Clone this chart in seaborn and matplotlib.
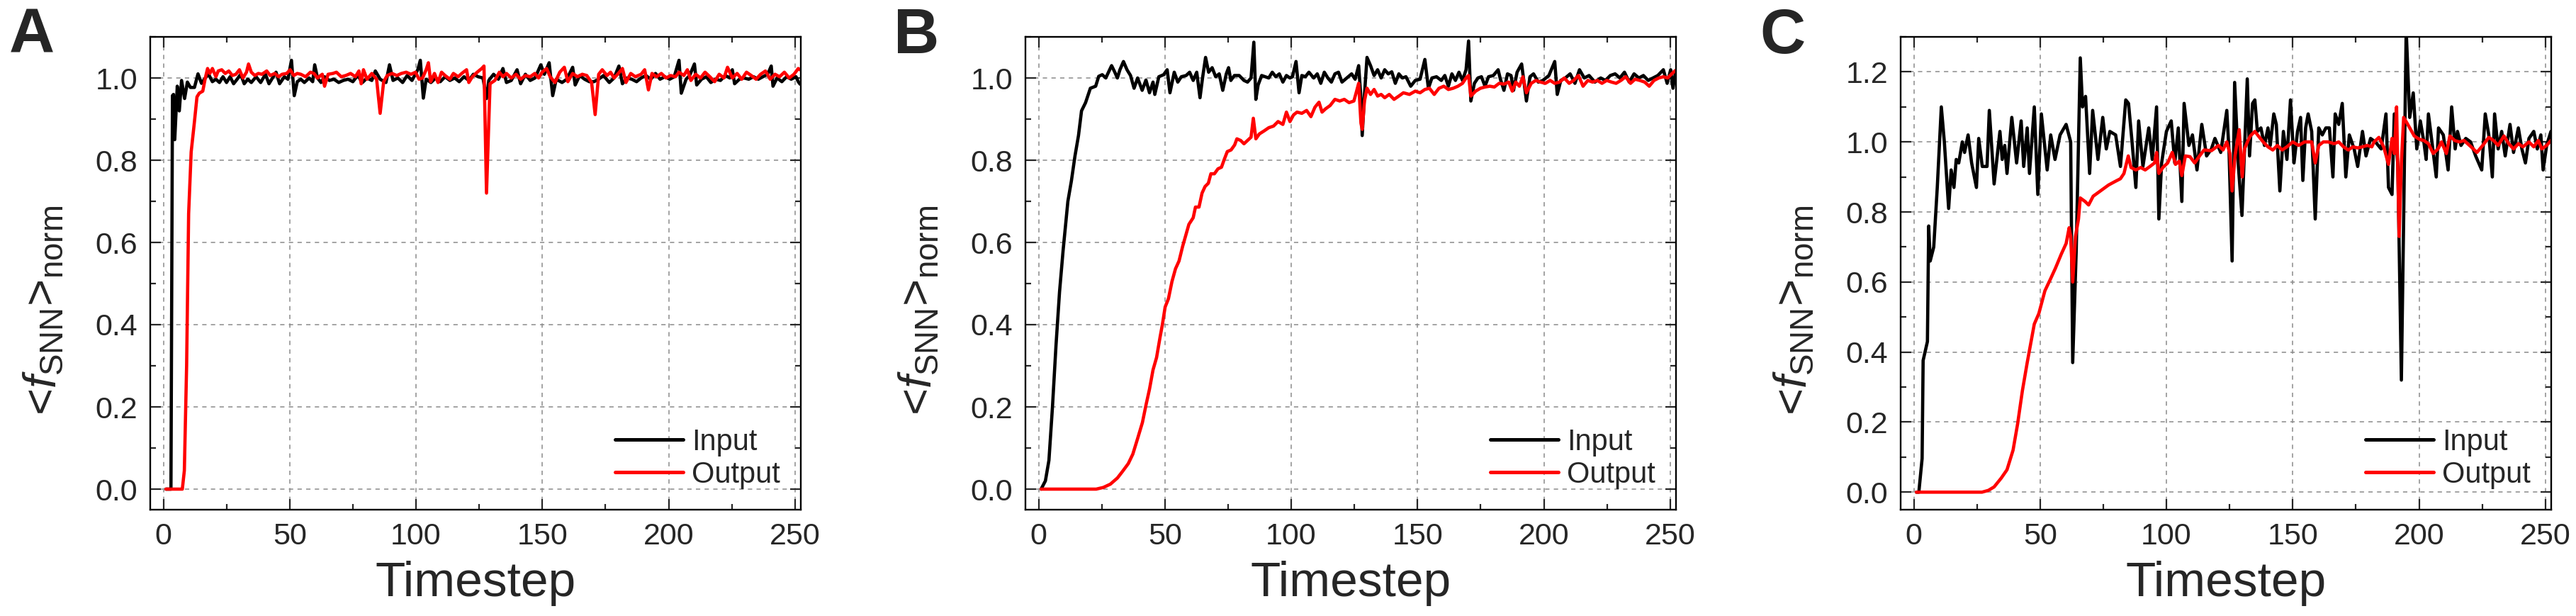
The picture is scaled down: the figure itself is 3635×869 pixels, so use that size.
import matplotlib
matplotlib.use('Agg')
import matplotlib.pyplot as plt
from matplotlib.ticker import MultipleLocator
import seaborn as sns

# each series: [timestep, <f_SNN>_norm] pairs

# panel A
a_input = [[1, 0], [2, 0], [3, 0], [3.6, 0.957], [4.0, 0.96], [4.5, 0.85], [5.5, 0.98], [6.3, 0.92], [7.2, 0.994],
           [8.4, 0.95], [9.5, 0.99], [10.7, 0.977], [12.3, 0.977], [13.7, 1.01], [15.1, 0.987], [16.6, 1.0],
           [17.9, 1.009], [19.4, 0.991], [20.8, 0.997], [22.2, 0.989], [23.6, 1.003], [25, 0.989], [26.4, 1.003],
           [27.8, 0.986], [29.2, 0.997], [30.6, 1.009], [32, 0.986], [33.4, 0.997], [34.8, 0.989], [36.7, 1.003],
           [38.5, 0.989], [40.4, 1.009], [41.8, 0.986], [43.2, 1.0], [44.6, 1.014], [46, 0.986], [47.9, 1.003],
           [49.3, 0.997], [50.7, 1.043], [51.8, 0.957], [53, 0.991], [54.4, 0.997], [55.8, 0.989], [57.7, 1.0],
           [59.1, 0.991], [59.9, 1.032], [61, 1.0], [62.4, 0.989], [63.8, 1.003], [65.7, 0.994], [67.5, 0.997],
           [69.4, 0.989], [71.2, 0.994], [73.1, 0.997], [75, 0.991], [76.9, 1.006], [78.8, 0.989], [80.6, 1.0],
           [82.5, 0.994], [83.9, 1.017], [85.8, 0.997], [88.1, 0.989], [89.5, 1.032], [90.9, 0.994], [92.8, 1.0],
           [94.7, 0.989], [96.5, 1.006], [98.4, 0.994], [100.7, 1.02], [101.7, 1.043], [102.9, 0.951], [104, 0.997],
           [105.9, 0.989], [107.8, 1.0], [109.6, 0.991], [111.5, 1.003], [113.4, 0.994], [115.3, 1.0], [117.1, 0.991],
           [119, 1.003], [120.9, 0.994], [122.7, 1.009], [124.6, 1.003], [126.5, 1.0], [127.9, 0.95], [128.8, 0.994],
           [130.7, 1.009], [132.6, 0.997], [134.4, 1.023], [135.8, 0.989], [137.7, 0.994], [140.0, 1.02],
           [141.4, 0.986], [143.3, 1.009], [145.2, 0.994], [147.1, 1.0], [149.4, 1.032], [150.8, 1.009],
           [152.7, 1.037], [154.1, 0.957], [155.5, 0.997], [157.8, 0.989], [159.7, 0.997], [162.0, 1.026],
           [163.0, 0.983], [164.8, 1.006], [166.7, 0.997], [168.6, 0.991], [170.4, 0.991], [172.3, 0.997],
           [174.2, 1.006], [176.5, 0.989], [178.4, 1.0], [180.3, 1.029], [181.7, 0.986], [183.5, 1.0], [185.4, 0.997],
           [187.3, 0.991], [189.1, 1.0], [191.0, 1.006], [192.9, 0.997], [194.8, 1.011], [196.6, 0.997],
           [198.5, 1.003], [200.4, 0.997], [202.2, 1.003], [204.1, 1.043], [205.0, 0.963], [206.9, 0.997],
           [208.3, 1.006], [210.2, 1.034], [211.1, 0.983], [213.0, 0.997], [214.9, 1.003], [216.7, 0.989],
           [218.6, 0.997], [220.5, 0.994], [222.4, 1.006], [224.2, 1.0], [225.2, 1.02], [226.1, 0.986], [228.0, 0.997],
           [229.8, 1.0], [231.7, 0.997], [233.6, 1.003], [235.5, 0.997], [237.3, 1.003], [239.2, 1.009],
           [240.6, 1.029], [241.3, 0.98], [242.9, 1.0], [244.8, 0.991], [246.7, 1.003], [248.5, 0.997],
           [250.4, 1.003], [251.3, 0.991], [252, 0.985]]

a_output = [[1, 0], [7.5, 0], [8.3, 0.045], [9.2, 0.3], [10, 0.67], [11, 0.82], [12.2, 0.888], [13.3, 0.954],
            [14.2, 0.963], [15.6, 0.968], [16.6, 1.0], [17.5, 1.023], [18.4, 1.011], [19.4, 1.023], [20.8, 1.003],
            [21.7, 1.017], [23.1, 1.02], [24.5, 1.011], [25.9, 1.017], [27.3, 1.006], [28.7, 1.009], [30.1, 1.02],
            [31.5, 1.0], [32.9, 1.014], [33.7, 1.034], [34.8, 1.014], [36.2, 1.006], [37.6, 1.011], [39.0, 1.009],
            [40.9, 1.017], [42.3, 1.006], [44.1, 1.011], [45.6, 1.003], [47.0, 1.009], [48.8, 1.011], [50.2, 1.02],
            [51.6, 1.006], [53.0, 1.011], [54.4, 1.009], [56.3, 1.003], [58.2, 1.014], [59.6, 1.011], [61.0, 1.0],
            [62.9, 1.009], [63.8, 0.98], [65.2, 1.009], [67.1, 1.011], [68.5, 1.014], [70.4, 1.003], [72.2, 1.006],
            [74.1, 1.011], [76.0, 1.003], [77.4, 1.017], [78.3, 0.986], [79.2, 1.02], [80.6, 0.997], [82.5, 1.011],
            [84.4, 0.997], [85.8, 0.914], [87.2, 0.991], [88.6, 1.006], [90.5, 1.011], [92.4, 1.006], [94.2, 1.011],
            [96.1, 1.014], [98.0, 1.009], [99.8, 1.014], [101.2, 0.997], [102.6, 1.0], [104.0, 1.02], [104.9, 1.037],
            [105.8, 0.991], [107.3, 1.011], [108.7, 0.989], [110.1, 1.014], [111.5, 1.006], [113.4, 0.997],
            [114.8, 1.011], [116.7, 1.003], [118.1, 1.011], [120.0, 1.02], [120.9, 0.989], [122.3, 1.003],
            [124.2, 1.014], [126.0, 1.023], [126.9, 1.029], [127.9, 0.72], [129.3, 0.986], [131.2, 0.994],
            [133.0, 1.014], [134.4, 1.003], [135.8, 1.011], [137.7, 1.0], [139.6, 1.009], [141.4, 0.997],
            [143.3, 1.006], [145.2, 1.003], [147.0, 1.011], [148.5, 1.0], [149.9, 1.014], [151.7, 1.023],
            [153.1, 1.003], [155.0, 0.989], [156.9, 1.014], [158.7, 1.026], [160.1, 0.991], [162.0, 1.011],
            [163.9, 1.003], [165.8, 1.009], [167.6, 1.006], [169.5, 0.989], [170.9, 0.911], [172.3, 1.009],
            [173.7, 1.02], [175.6, 1.006], [177.0, 1.014], [178.4, 1.0], [179.8, 1.009], [181.7, 1.023],
            [183.1, 0.989], [185.0, 1.011], [186.8, 1.003], [189.1, 1.009], [190.5, 1.02], [192.0, 0.971],
            [193.4, 1.011], [195.2, 1.003], [197.1, 1.011], [199.0, 1.0], [200.8, 1.006], [202.7, 1.003],
            [204.1, 1.014], [206.0, 1.006], [207.4, 1.02], [208.8, 0.994], [210.7, 1.009], [212.6, 1.0],
            [214.4, 1.014], [216.3, 1.003], [218.2, 0.991], [220.0, 1.009], [221.9, 1.0], [223.3, 1.026],
            [225.2, 1.0], [227.1, 1.011], [228.9, 0.997], [230.8, 1.014], [232.7, 1.006], [234.6, 0.997],
            [236.4, 1.009], [238.3, 1.017], [240.2, 0.997], [242.1, 1.009], [243.9, 1.003], [245.8, 1.014],
            [247.7, 1.0], [249.6, 1.009], [251.3, 1.023], [252, 1.02]]

# panel B
b_input = [[1, 0], [2.7, 0.02], [4.1, 0.07], [5.5, 0.2], [6.9, 0.35], [8.3, 0.48], [9.7, 0.58], [11.6, 0.70],
           [13, 0.75], [14.4, 0.81], [15.8, 0.86], [17, 0.92], [18.6, 0.94], [20.5, 0.975], [22.6, 0.98],
           [23.8, 1.004], [25.2, 1.008], [26.6, 1.0], [28.9, 1.03], [30.1, 1.015], [31.2, 1.0], [32.2, 1.02],
           [33.6, 1.04], [35, 1.02], [36.4, 1.006], [37.8, 0.975], [39.2, 1.0], [41, 0.97], [42.5, 0.995],
           [43.9, 0.964], [45.3, 0.99], [46, 0.96], [47.6, 1.003], [49.5, 1.008], [50.9, 1.02], [52, 0.964],
           [53.7, 1.014], [55.1, 0.99], [56.5, 1.003], [58.4, 1.006], [59.8, 1.014], [61.2, 0.994], [62.6, 1.014],
           [63.9, 0.952], [64.9, 1.0], [66.1, 1.05], [67.3, 1.014], [68.7, 1.025], [70.1, 1.003], [71.5, 1.01],
           [72.9, 0.97], [74.3, 1.01], [75.2, 1.025], [76.1, 0.994], [77.5, 1.006], [79.4, 1.006], [81.3, 0.994],
           [82.7, 0.99], [84.1, 1.0], [85.2, 1.087], [86, 0.948], [86.9, 0.983], [88.3, 1.006], [89.7, 1.003],
           [91.1, 1.0], [92.5, 1.014], [93.9, 1.003], [95.3, 1.01], [96.7, 0.99], [98.1, 1.006], [99.5, 1.0],
           [100.5, 1.003], [101.9, 1.04], [103.1, 0.964], [104.2, 1.006], [105.6, 1.003], [107, 1.014],
           [108.9, 1.0], [110.3, 1.01], [111.7, 0.987], [113.1, 1.014], [114.5, 1.0], [115.9, 0.99], [117.3, 1.01],
           [118.7, 1.014], [120.1, 0.99], [122, 1.0], [123.9, 1.01], [125.3, 0.997], [126.7, 1.03], [127.6, 0.95],
           [128.1, 0.86], [129, 0.96], [130, 1.05], [131.4, 1.03], [132.8, 1.006], [134.2, 1.02], [135.6, 1.0],
           [137, 1.02], [138.4, 1.01], [139.8, 1.015], [141.2, 0.987], [142.6, 1.01], [144, 1.0], [145.4, 1.003],
           [147.3, 0.98], [149.1, 0.994], [151, 0.997], [152.9, 1.045], [154.3, 0.975], [155.7, 1.0],
           [157.5, 1.003], [159.4, 0.994], [160.8, 1.006], [162.2, 0.98], [163.6, 1.01], [165, 0.994],
           [166.4, 1.014], [167.8, 0.994], [169.2, 1.02], [170.2, 1.09], [171.1, 0.944], [172.5, 0.987],
           [173.9, 1.0], [175.3, 1.003], [176.7, 0.98], [178.1, 1.003], [180, 1.006], [181.9, 1.02], [182.8, 0.997],
           [184.2, 0.97], [185.6, 1.01], [187, 1.006], [188, 0.97], [189.4, 1.014], [191.2, 1.034], [193.1, 0.944],
           [194.5, 1.003], [195.9, 1.01], [197.8, 0.99], [199.6, 0.994], [202, 1.006], [204.3, 1.04],
           [205.3, 0.96], [206.7, 0.994], [208.5, 1.0], [210.4, 1.01], [212.3, 0.987], [214.1, 1.02], [216, 1.0],
           [217.9, 1.006], [220.2, 0.99], [222.5, 1.0], [224.4, 0.994], [226.3, 1.006], [228.2, 1.01],
           [230.1, 1.0], [231.9, 1.014], [233.8, 0.99], [235.7, 1.01], [237.6, 1.0], [239.4, 1.006],
           [241.3, 0.994], [243.2, 1.0], [245.1, 1.006], [247.3, 1.02], [248.8, 0.987], [250.2, 1.02],
           [251.1, 0.975], [252, 1.01]]

b_output = [[1, 0], [22.8, 0], [25.6, 0.004], [28.4, 0.012], [31.2, 0.027], [33.1, 0.042], [35.5, 0.062],
            [37.3, 0.085], [39.2, 0.123], [41.1, 0.162], [42.5, 0.204], [43.9, 0.243], [45.3, 0.29], [46.7, 0.32],
            [48.1, 0.37], [49, 0.40], [50.1, 0.443], [51.4, 0.463], [52.8, 0.505], [54.2, 0.536], [55.6, 0.555],
            [57, 0.59], [58.4, 0.62], [59.5, 0.644], [61.2, 0.66], [62.1, 0.686], [63.5, 0.686], [64.7, 0.72],
            [65.9, 0.736], [67.2, 0.744], [68.2, 0.767], [69.6, 0.767], [71, 0.779], [72.4, 0.783], [73.5, 0.802],
            [74.7, 0.821], [76.2, 0.825], [77.6, 0.837], [78.5, 0.852], [80, 0.848], [81.3, 0.84], [82.7, 0.848],
            [84.1, 0.856], [85, 0.902], [86, 0.852], [87.4, 0.864], [89.2, 0.871], [91.1, 0.879], [93, 0.883],
            [94.8, 0.894], [96.7, 0.887], [98.1, 0.917], [99.5, 0.894], [100.9, 0.91], [102.3, 0.917],
            [104.2, 0.914], [106.1, 0.921], [107.8, 0.906], [109.4, 0.929], [111, 0.941], [112.2, 0.917],
            [113.6, 0.925], [115.4, 0.933], [117.3, 0.948], [119.2, 0.944], [121, 0.948], [122.9, 0.94],
            [124.8, 0.944], [125.7, 0.964], [126.7, 0.987], [127.6, 0.89], [128.1, 0.875], [129, 0.944],
            [130, 0.975], [131.4, 0.96], [132.8, 0.972], [134.2, 0.956], [135.6, 0.96], [137, 0.952],
            [138.8, 0.96], [140.7, 0.948], [142.6, 0.956], [144.4, 0.964], [146.8, 0.96], [149.1, 0.968],
            [151, 0.964], [152.9, 0.972], [154.7, 0.975], [156.6, 0.96], [158.5, 0.975], [160.4, 0.98],
            [162.2, 0.972], [164.1, 0.975], [166, 0.98], [167.8, 0.987], [169.2, 1.0], [170.2, 1.006],
            [171.1, 0.956], [173, 0.968], [174.9, 0.975], [176.7, 0.978], [178.6, 0.98], [180.4, 0.978],
            [182.3, 0.987], [184.2, 0.985], [186.1, 0.99], [187.5, 0.968], [188.9, 0.99], [190.3, 0.98],
            [191.7, 1.003], [193.1, 0.964], [195, 0.987], [196.8, 0.994], [198.7, 0.99], [200.6, 0.987],
            [202.5, 0.994], [204.3, 0.987], [206.2, 0.99], [208.1, 1.0], [210, 0.987], [211.8, 0.994],
            [213.7, 1.006], [215.5, 0.98], [217.4, 0.994], [219.3, 0.99], [221.2, 0.994], [223, 0.987],
            [224.9, 0.994], [226.8, 0.99], [228.6, 0.987], [230.5, 0.994], [232.4, 1.003], [234.3, 0.987],
            [236.1, 0.997], [238, 0.994], [239.9, 0.99], [241.7, 0.98], [243.6, 0.994], [245.5, 1.0],
            [247.3, 1.003], [249, 1.0], [250.6, 1.01], [252, 1.018]]

# panel C
c_input = [[1, 0], [2, 0], [3.3, 0.096], [3.7, 0.376], [5.4, 0.43], [5.9, 0.76], [6.5, 0.66], [7.9, 0.70],
           [9.3, 0.87], [10.9, 1.10], [12.1, 1.0], [13.8, 0.81], [14.8, 0.92], [15.9, 0.87], [16.8, 0.95],
           [17.8, 0.94], [19.2, 1.0], [20.1, 0.97], [21.5, 1.02], [22.9, 0.94], [24.8, 0.87], [25.7, 1.01],
           [27.1, 0.93], [29, 0.93], [29.9, 1.09], [31.8, 0.88], [34.1, 1.03], [35, 0.95], [36, 0.99], [36.9, 0.91],
           [38.8, 1.07], [40.7, 0.94], [42.5, 1.06], [43.5, 0.93], [44.9, 1.04], [45.8, 0.91], [47.7, 1.10],
           [49.1, 0.85], [50.5, 1.08], [52.8, 0.92], [54.2, 1.02], [55.9, 0.95], [57.9, 1.02], [60.3, 1.05],
           [62.1, 1.0], [62.9, 0.37], [64.3, 0.69], [65.9, 1.24], [66.8, 1.10], [68, 1.13], [69.6, 0.91],
           [70.8, 1.09], [72.9, 0.95], [74.8, 1.07], [76.2, 0.98], [77.6, 1.03], [79.9, 1.02], [81.8, 0.93],
           [83.9, 1.12], [85, 1.11], [86.4, 1.0], [87.9, 0.87], [89, 1.06], [90.7, 0.93], [93, 1.04], [94.4, 0.95],
           [96.1, 1.10], [97, 0.78], [98.1, 0.94], [100, 1.03], [101.9, 1.06], [103.3, 0.94], [104.7, 1.04],
           [106.1, 0.83], [107, 1.11], [108.9, 0.99], [110.3, 1.02], [112.1, 0.92], [114, 1.05], [115.9, 0.96],
           [117.8, 0.98], [119.2, 1.01], [121.5, 0.97], [123.9, 1.09], [124.8, 0.97], [126, 0.66], [127, 1.17],
           [128.5, 0.93], [129.9, 0.79], [132, 1.18], [132.9, 0.96], [134.1, 1.11], [135, 1.12], [136, 1.03],
           [137.4, 1.04], [138.8, 0.99], [140.2, 1.04], [141.1, 0.99], [142.5, 1.08], [143.5, 1.05], [144.9, 0.86],
           [146.3, 1.03], [147.7, 0.95], [149.1, 1.12], [150.5, 0.94], [151.9, 1.03], [153.1, 1.07], [154, 0.89],
           [155.1, 1.04], [156.1, 1.08], [157.5, 1.03], [158.9, 0.78], [160.3, 1.04], [161.7, 1.02], [163.1, 1.04],
           [164.5, 1.04], [165.9, 0.90], [166.8, 1.08], [168.2, 1.05], [169.6, 1.11], [171, 0.90], [172.4, 1.02],
           [174.3, 0.98], [175.7, 0.93], [177.6, 1.03], [179, 0.96], [180.8, 1.01], [182.7, 1.0], [185, 0.98],
           [186.9, 1.08], [187.9, 0.87], [189.3, 0.85], [190.2, 1.08], [191.6, 0.93], [193, 0.32], [193.9, 0.78],
           [194.9, 1.32], [196.3, 1.07], [197.7, 1.14], [199.1, 0.98], [200.5, 1.06], [201.9, 1.0], [202.8, 0.95],
           [203.7, 1.08], [205.1, 1.0], [206.8, 0.90], [207.7, 1.04], [209.6, 1.02], [211.5, 0.92], [212.9, 1.10],
           [214.3, 0.98], [215.2, 1.03], [216.6, 0.99], [218.5, 1.01], [220.4, 1.0], [222.4, 0.96], [224.8, 0.92],
           [226.2, 1.08], [227.6, 1.02], [229, 0.90], [229.9, 1.08], [231.3, 0.98], [232.7, 1.03], [234.1, 0.96],
           [236, 1.05], [237.4, 0.97], [239.3, 1.04], [240.7, 0.98], [242.1, 0.94], [243.5, 1.01], [245.4, 1.03],
           [246.8, 0.98], [248.2, 1.02], [249.1, 0.92], [250.5, 0.99], [252.2, 1.03]]

c_output = [[1, 0], [27, 0], [29.5, 0.005], [31.8, 0.015], [34.6, 0.04], [36.9, 0.064], [39.3, 0.12],
            [41.1, 0.195], [43, 0.29], [44.9, 0.37], [47.7, 0.48], [49.5, 0.51], [51.9, 0.575], [54.2, 0.61],
            [56.1, 0.64], [58.4, 0.68], [60.3, 0.71], [61.5, 0.755], [62.1, 0.73], [62.9, 0.60], [64, 0.73],
            [65.2, 0.78], [65.9, 0.84], [67.8, 0.83], [69.2, 0.82], [71, 0.845], [72.9, 0.855], [74.8, 0.865],
            [77.1, 0.877], [79.4, 0.886], [81.8, 0.895], [83.2, 0.91], [84.9, 0.96], [86, 0.927], [87.9, 0.92],
            [89.8, 0.927], [91.6, 0.92], [93.5, 0.93], [95.3, 0.94], [96.1, 0.97], [97, 0.91], [98.6, 0.927],
            [100.5, 0.94], [102.3, 0.97], [103.6, 0.936], [105.1, 0.945], [106.1, 0.904], [107.5, 0.96],
            [109.3, 0.958], [111.2, 0.94], [113.1, 0.96], [114.9, 0.977], [117.8, 0.975], [120.6, 0.99],
            [122.4, 0.977], [123.9, 1.0], [125.1, 0.967], [126, 0.86], [127.2, 0.963], [128.8, 1.035], [130, 0.90],
            [130.9, 0.98], [132.3, 1.004], [133.2, 1.017], [135, 1.03], [136.4, 1.017], [138.3, 1.0], [140.2, 0.986],
            [142.1, 0.977], [143.9, 0.99], [145.8, 0.977], [147.7, 0.986], [150, 1.0], [152.3, 0.99], [154.7, 1.0],
            [157.5, 1.0], [158.9, 0.94], [160.3, 0.99], [162.1, 1.0], [164, 1.0], [166.4, 0.995], [168.2, 1.0],
            [170.1, 0.986], [172, 0.977], [173.8, 0.986], [175.7, 0.983], [177.6, 0.986], [179.5, 0.99],
            [181.3, 0.986], [182.2, 1.0], [184.1, 1.013], [186, 0.986], [187.9, 0.936], [189.3, 1.01],
            [190.2, 0.967], [191.1, 1.10], [192.1, 0.73], [193, 0.94], [193.9, 1.07], [195.3, 1.053],
            [196.7, 1.035], [198.1, 1.017], [200, 1.008], [201.9, 1.004], [203.7, 0.995], [205.6, 0.967],
            [207.5, 0.98], [208.9, 1.0], [210.8, 0.967], [212.2, 1.017], [214.1, 1.004], [216, 1.0],
            [217.8, 1.004], [220.6, 0.986], [222.9, 0.97], [225.2, 0.99], [227.6, 1.013], [229.5, 1.004],
            [231.3, 0.99], [233.6, 1.017], [235.5, 0.995], [237.4, 0.98], [239.3, 0.995], [241.1, 0.986],
            [243.5, 1.0], [245.4, 0.986], [247.2, 1.004], [248.6, 0.98], [250.5, 0.99], [252.2, 1.004]]

panel_letters = ['A', 'B', 'C']
y_tops = [1.1, 1.1, 1.3]

sns.set_style('ticks')
plt.rcParams['font.family'] = ['Liberation Sans', 'DejaVu Sans']
plt.rcParams['mathtext.fontset'] = 'custom'
plt.rcParams['mathtext.rm'] = 'Liberation Sans'
plt.rcParams['mathtext.it'] = 'Liberation Sans:italic'
plt.rcParams['mathtext.bf'] = 'Liberation Sans:bold'

W, H = 3635, 869
fig = plt.figure(figsize=(W / 100, H / 100), dpi=100)

ax_lefts = [212, 1447, 2682]
letter_x = [13, 1261, 2483]
series = [(a_input, a_output), (b_input, b_output), (c_input, c_output)]

for i in range(3):
    ax = fig.add_axes([ax_lefts[i] / W, 1 - 719 / H, 918 / W, 667 / H])
    s_in, s_out = series[i]
    sns.lineplot(x=[p[0] for p in s_in], y=[p[1] for p in s_in], ax=ax, color='black',
                 lw=3.3, label='Input', estimator=None, sort=False)
    sns.lineplot(x=[p[0] for p in s_out], y=[p[1] for p in s_out], ax=ax, color='#ff0000',
                 lw=3.3, label='Output', estimator=None, sort=False)

    ax.set_xlim(-5.2, 252.3)
    ax.set_ylim(-0.05, y_tops[i])
    ax.xaxis.set_major_locator(MultipleLocator(50))
    ax.xaxis.set_minor_locator(MultipleLocator(25))
    ax.yaxis.set_major_locator(MultipleLocator(0.2))
    ax.yaxis.set_minor_locator(MultipleLocator(0.1))
    ax.set_axisbelow(True)
    ax.grid(True, which='major', color='#8a8a8a', linestyle=(0, (4, 4)), linewidth=1.1)

    ax.tick_params(which='both', direction='in', top=True, right=True, width=1.6,
                   labelsize=31, pad=13)
    ax.tick_params(which='major', length=11)
    ax.tick_params(which='minor', length=6)
    for sp in ax.spines.values():
        sp.set_linewidth(1.7)
        sp.set_color('black')

    ax.set_xlabel('Timestep', fontsize=50, labelpad=10)
    ax.set_ylabel(r'<$f_{\mathrm{SNN}}$>$_{\mathrm{norm}}$', fontsize=47)
    ax.yaxis.set_label_coords(-0.131, 0.421)

    leg = ax.legend(loc='lower right', frameon=False, fontsize=30, handlelength=2.3,
                    handletextpad=0.3, labelspacing=0.15, borderaxespad=0.3)
    for ln in leg.get_lines():
        ln.set_linewidth(3.6)

    fig.text(letter_x[i] / W, 1 - 75 / H, panel_letters[i], fontsize=64, fontweight='bold',
             ha='left', va='baseline')

fig.savefig('out.png', dpi=100)
